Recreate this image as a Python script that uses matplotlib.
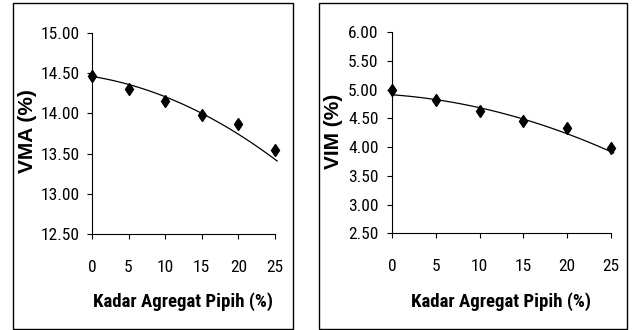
import numpy as np
import matplotlib.pyplot as plt
from matplotlib.patches import Rectangle

# data
kadar = [0, 5, 10, 15, 20, 25]
vma = [14.47, 14.31, 14.15, 13.98, 13.87, 13.54]
vim = [4.99, 4.82, 4.63, 4.46, 4.34, 3.98]
# trendline values read at each x (poly order 2 in Excel)
vma_trend = [14.46, 14.36, 14.21, 14.00, 13.74, 13.43]
vim_trend = [4.91, 4.83, 4.70, 4.47, 4.24, 3.92]

vma_ticks = [12.5, 13.0, 13.5, 14.0, 14.5, 15.0]
vim_ticks = [2.5, 3.0, 3.5, 4.0, 4.5, 5.0, 5.5, 6.0]
xlabel = 'Kadar Agregat Pipih (%)'

narrow = ['Roboto Condensed', 'DejaVu Sans']
bold = ['Liberation Sans', 'DejaVu Sans']

fig = plt.figure(figsize=(6.33, 3.3), dpi=100)

panels = [
    # axes rect, border rect, y data, trend, ticks, ylabel, ylabel x, xlabel x, ytick pad
    ([0.1453, 0.2909, 0.289, 0.609], [0.0205, 0.003, 0.4425, 0.988],
     vma, vma_trend, vma_ticks, 'VMA (%)', 0.044, 183 / 633, 5),
    ([0.6193, 0.293, 0.346, 0.609], [0.504, 0.003, 0.4865, 0.988],
     vim, vim_trend, vim_ticks, 'VIM (%)', 0.5276, 501 / 633, 6),
]

for rect, box, yv, tr, ticks, ylab, ylx, xlx, ypad in panels:
    fig.patches.append(Rectangle((box[0], box[1]), box[2], box[3],
                                 transform=fig.transFigure, fill=False,
                                 edgecolor='black', linewidth=1.0))
    ax = fig.add_axes(rect)
    coef = np.polyfit(kadar, tr, 2)
    xs = np.linspace(0, 25.3, 100)
    ax.plot(xs, np.polyval(coef, xs), color='black', linewidth=0.9, clip_on=False)
    ax.plot(kadar, yv, 'd', color='black', markersize=6, clip_on=False)
    ax.set_xlim(0, 25)
    ax.set_ylim(ticks[0], ticks[-1])
    ax.set_yticks(ticks)
    ax.set_yticklabels(['%.2f' % t for t in ticks], family=narrow, fontsize=12.5)
    ax.set_xticks(kadar)
    ax.set_xticklabels([str(k) for k in kadar], family=narrow, fontsize=12.5)
    ax.spines['top'].set_visible(False)
    ax.spines['right'].set_visible(False)
    ax.spines['left'].set_linewidth(0.8)
    ax.spines['bottom'].set_linewidth(0.8)
    ax.tick_params(axis='y', direction='out', length=3.6, width=0.8, pad=ypad)
    ax.tick_params(axis='x', direction='out', length=3.6, width=0.8, pad=15)
    ax.patch.set_visible(False)
    fig.text(ylx, 1 - 131 / 330, ylab, rotation=90, ha='center', va='center',
             fontsize=15, fontweight='bold', family=bold)
    fig.text(xlx, 1 - 302 / 330, xlabel, ha='center', va='center',
             fontsize=13.5, fontweight='bold', family=narrow)

fig.savefig('out.png', dpi=100)
